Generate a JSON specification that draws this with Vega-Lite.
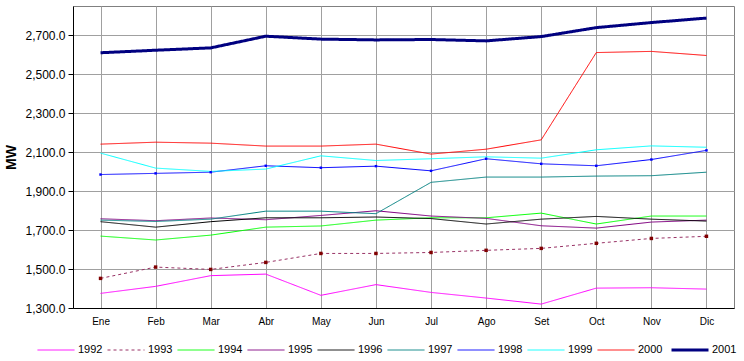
{
  "$schema": "https://vega.github.io/schema/vega-lite/v6.json",
  "autosize": {"type": "none"},
  "width": 661,
  "height": 302,
  "padding": {"left": 73, "top": 6, "right": 10, "bottom": 53},
  "background": "white",
  "config": {
    "view": {"stroke": "#808080", "strokeWidth": 1},
    "font": "Liberation Sans"
  },
  "data": {"values": [
    {"m":"Ene","a":"1992","v":1375},{"m":"Feb","a":"1992","v":1411},{"m":"Mar","a":"1992","v":1466},{"m":"Abr","a":"1992","v":1474},{"m":"May","a":"1992","v":1365},{"m":"Jun","a":"1992","v":1420},{"m":"Jul","a":"1992","v":1380},{"m":"Ago","a":"1992","v":1351},{"m":"Set","a":"1992","v":1320},{"m":"Oct","a":"1992","v":1402},{"m":"Nov","a":"1992","v":1404},{"m":"Dic","a":"1992","v":1397},
    {"m":"Ene","a":"1993","v":1452},{"m":"Feb","a":"1993","v":1510},{"m":"Mar","a":"1993","v":1498},{"m":"Abr","a":"1993","v":1534},{"m":"May","a":"1993","v":1580},{"m":"Jun","a":"1993","v":1580},{"m":"Jul","a":"1993","v":1585},{"m":"Ago","a":"1993","v":1596},{"m":"Set","a":"1993","v":1606},{"m":"Oct","a":"1993","v":1632},{"m":"Nov","a":"1993","v":1657},{"m":"Dic","a":"1993","v":1668},
    {"m":"Ene","a":"1994","v":1669},{"m":"Feb","a":"1994","v":1649},{"m":"Mar","a":"1994","v":1674},{"m":"Abr","a":"1994","v":1715},{"m":"May","a":"1994","v":1721},{"m":"Jun","a":"1994","v":1751},{"m":"Jul","a":"1994","v":1763},{"m":"Ago","a":"1994","v":1763},{"m":"Set","a":"1994","v":1787},{"m":"Oct","a":"1994","v":1731},{"m":"Nov","a":"1994","v":1772},{"m":"Dic","a":"1994","v":1772},
    {"m":"Ene","a":"1995","v":1758},{"m":"Feb","a":"1995","v":1748},{"m":"Mar","a":"1995","v":1762},{"m":"Abr","a":"1995","v":1753},{"m":"May","a":"1995","v":1775},{"m":"Jun","a":"1995","v":1799},{"m":"Jul","a":"1995","v":1772},{"m":"Ago","a":"1995","v":1760},{"m":"Set","a":"1995","v":1722},{"m":"Oct","a":"1995","v":1710},{"m":"Nov","a":"1995","v":1741},{"m":"Dic","a":"1995","v":1751},
    {"m":"Ene","a":"1996","v":1743},{"m":"Feb","a":"1996","v":1715},{"m":"Mar","a":"1996","v":1743},{"m":"Abr","a":"1996","v":1763},{"m":"May","a":"1996","v":1763},{"m":"Jun","a":"1996","v":1767},{"m":"Jul","a":"1996","v":1759},{"m":"Ago","a":"1996","v":1731},{"m":"Set","a":"1996","v":1756},{"m":"Oct","a":"1996","v":1770},{"m":"Nov","a":"1996","v":1756},{"m":"Dic","a":"1996","v":1746},
    {"m":"Ene","a":"1997","v":1751},{"m":"Feb","a":"1997","v":1744},{"m":"Mar","a":"1997","v":1756},{"m":"Abr","a":"1997","v":1797},{"m":"May","a":"1997","v":1797},{"m":"Jun","a":"1997","v":1784},{"m":"Jul","a":"1997","v":1945},{"m":"Ago","a":"1997","v":1972},{"m":"Set","a":"1997","v":1972},{"m":"Oct","a":"1997","v":1977},{"m":"Nov","a":"1997","v":1979},{"m":"Dic","a":"1997","v":1997},
    {"m":"Ene","a":"1998","v":1985},{"m":"Feb","a":"1998","v":1991},{"m":"Mar","a":"1998","v":1997},{"m":"Abr","a":"1998","v":2030},{"m":"May","a":"1998","v":2020},{"m":"Jun","a":"1998","v":2028},{"m":"Jul","a":"1998","v":2004},{"m":"Ago","a":"1998","v":2066},{"m":"Set","a":"1998","v":2040},{"m":"Oct","a":"1998","v":2030},{"m":"Nov","a":"1998","v":2062},{"m":"Dic","a":"1998","v":2109},
    {"m":"Ene","a":"1999","v":2095},{"m":"Feb","a":"1999","v":2018},{"m":"Mar","a":"1999","v":2001},{"m":"Abr","a":"1999","v":2013},{"m":"May","a":"1999","v":2081},{"m":"Jun","a":"1999","v":2057},{"m":"Jul","a":"1999","v":2066},{"m":"Ago","a":"1999","v":2076},{"m":"Set","a":"1999","v":2069},{"m":"Oct","a":"1999","v":2112},{"m":"Nov","a":"1999","v":2132},{"m":"Dic","a":"1999","v":2125},
    {"m":"Ene","a":"2000","v":2141},{"m":"Feb","a":"2000","v":2151},{"m":"Mar","a":"2000","v":2146},{"m":"Abr","a":"2000","v":2131},{"m":"May","a":"2000","v":2131},{"m":"Jun","a":"2000","v":2141},{"m":"Jul","a":"2000","v":2090},{"m":"Ago","a":"2000","v":2115},{"m":"Set","a":"2000","v":2163},{"m":"Oct","a":"2000","v":2611},{"m":"Nov","a":"2000","v":2617},{"m":"Dic","a":"2000","v":2596},
    {"m":"Ene","a":"2001","v":2610},{"m":"Feb","a":"2001","v":2623},{"m":"Mar","a":"2001","v":2635},{"m":"Abr","a":"2001","v":2695},{"m":"May","a":"2001","v":2680},{"m":"Jun","a":"2001","v":2676},{"m":"Jul","a":"2001","v":2678},{"m":"Ago","a":"2001","v":2671},{"m":"Set","a":"2001","v":2693},{"m":"Oct","a":"2001","v":2739},{"m":"Nov","a":"2001","v":2765},{"m":"Dic","a":"2001","v":2788}
  ]},
  "encoding": {
    "x": {
      "field": "m", "type": "ordinal",
      "sort": ["Ene","Feb","Mar","Abr","May","Jun","Jul","Ago","Set","Oct","Nov","Dic"],
      "scale": {"type": "point", "padding": 0.5},
      "axis": {
        "title": null, "labelAngle": 0, "labelFont": "Liberation Sans", "labelFontSize": 10,
        "labelColor": "black", "ticks": false, "labelPadding": 8,
        "domainColor": "black", "grid": true, "gridColor": "#a0a0a0", "gridOpacity": 1
      }
    },
    "y": {
      "field": "v", "type": "quantitative",
      "scale": {"domain": [1300, 2850], "nice": false, "zero": false},
      "axis": {
        "title": "MW", "titleFont": "Liberation Sans", "titleFontSize": 14, "titleFontWeight": "bold",
        "titleColor": "black", "titlePadding": 6,
        "values": [1300,1500,1700,1900,2100,2300,2500,2700], "format": ",.1f",
        "labelFont": "Liberation Sans", "labelFontSize": 12, "labelColor": "black",
        "tickColor": "black", "tickSize": 5, "labelPadding": 3,
        "domainColor": "black", "grid": true, "gridColor": "#a0a0a0", "gridOpacity": 1
      }
    }
  },
  "layer": [
    {
      "mark": {"type": "line", "interpolate": "linear"},
      "encoding": {
        "color": {
          "field": "a", "type": "nominal",
          "scale": {
            "domain": ["1992","1993","1994","1995","1996","1997","1998","1999","2000","2001"],
            "range": ["#ff00ff","#993366","#00ff00","#800080","#000000","#008080","#0000ff","#00ffff","#ff0000","#000080"]
          },
          "legend": {
            "title": null, "orient": "none", "direction": "horizontal", "columns": 10,
            "legendX": -37, "legendY": 324,
            "symbolType": "stroke", "symbolSize": 1369, "labelFont": "Liberation Sans",
            "labelFontSize": 11, "labelColor": "black", "labelOffset": 2, "columnPadding": 2
          }
        },
        "strokeDash": {
          "field": "a", "type": "nominal",
          "scale": {
            "domain": ["1992","1993","1994","1995","1996","1997","1998","1999","2000","2001"],
            "range": [[1,0],[3,3],[1,0],[1,0],[1,0],[1,0],[1,0],[1,0],[1,0],[1,0]]
          }
        },
        "strokeWidth": {
          "field": "a", "type": "nominal",
          "scale": {
            "type": "ordinal",
            "domain": ["1992","1993","1994","1995","1996","1997","1998","1999","2000","2001"],
            "range": [1,1,1,1,1,1,1,1,1,3]
          }
        }
      }
    },
    {
      "transform": [{"filter": "datum.a == '1993'"}],
      "mark": {"type": "square", "color": "#800000", "size": 12, "opacity": 1},
      "encoding": {}
    },
    {
      "transform": [{"filter": "datum.a == '1998'"}],
      "mark": {"type": "square", "color": "#0000ff", "size": 6, "opacity": 1},
      "encoding": {}
    }
  ]
}
